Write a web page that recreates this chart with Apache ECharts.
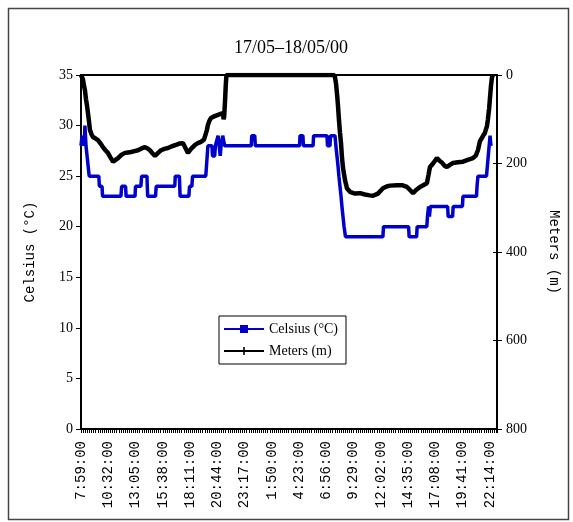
<!DOCTYPE html>
<html>
<head>
<meta charset="utf-8">
<script src="https://cdn.jsdelivr.net/npm/echarts@6/dist/echarts.min.js"></script>
<style>
html,body{margin:0;padding:0;background:#fff;}
#chart{width:573px;height:522px;}
</style>
</head>
<body>
<div id="chart"></div>
<script>
// Tick labels of the time axis (one every 153 minutes from 7:59:00)
const xLabels = ['7:59:00','10:32:00','13:05:00','15:38:00','18:11:00','20:44:00','23:17:00','1:50:00','4:23:00','6:56:00','9:29:00','12:02:00','14:35:00','17:08:00','19:41:00','22:14:00'];
const labelStep = 153;     // minutes between labels
const timeSpan = 2334;     // minutes shown on the axis

// Celsius (°C): minutes after 7:59:00 and temperature
const tempMinutes = [0,6,14,20,22,25,28,34,40,46,100,103,118,121,224,228,250,253,303,306,336,340,370,374,418,422,526,529,552,556,605,609,622,626,700,704,708,712,735,738,750,754,765,769,778,781,786,795,806,955,958,975,978,1226,1229,1245,1248,1302,1305,1380,1383,1397,1400,1425,1430,1436,1442,1447,1453,1459,1464,1470,1476,1484,1694,1697,1838,1841,1883,1886,1940,1944,1950,1955,1960,2057,2060,2085,2088,2140,2143,2219,2222,2227,2275,2280,2285,2290,2295,2300];
const tempValues  = [28,29,28,29,30,29,28,27,26,25,25,24,24,23,23,24,24,23,23,24,24,25,25,23,23,24,24,25,25,23,23,24,24,25,25,26,27,28,28,27,27,28,28,29,29,27,28,29,28,28,29,29,28,28,29,29,28,28,29,29,28,28,29,29,28,27,26,25,24,23,22,21,20,19,19,20,20,19,19,20,20,21,22,21,22,22,21,21,22,22,23,23,24,25,25,26,27,28,29,28];

// Meters (m): minutes after 7:59:00 and depth
const depthMinutes = [0,6,11,17,22,28,34,39,45,50,60,67,80,95,110,123,137,151,165,180,194,208,228,247,264,281,300,320,340,359,373,387,401,415,432,449,468,488,510,533,552,572,586,600,620,640,656,673,690,701,706,712,720,729,750,769,783,797,800,803,808,812,816,1420,1425,1431,1437,1442,1447,1453,1459,1464,1470,1481,1492,1509,1537,1565,1593,1620,1638,1666,1694,1715,1733,1773,1801,1829,1846,1863,1880,1902,1925,1941,1950,1958,1975,1997,2010,2025,2040,2053,2070,2087,2115,2143,2170,2199,2215,2227,2238,2255,2266,2278,2283,2290,2295,2300,2306,2311];
const depthValues  = [0,3,10,25,34,55,70,86,105,124,135,140,143,147,155,163,170,176,186,196,192,188,180,176,175,174,172,170,166,163,166,170,177,183,176,170,167,165,161,158,155,154,165,176,166,158,154,151,146,142,125,113,104,97,93,90,88,86,100,95,60,25,0,0,5,20,45,70,100,130,155,185,210,237,256,264,268,267,270,272,273,268,256,252,250,249,249,253,260,267,260,253,248,244,225,208,200,188,193,198,205,208,203,199,197,196,192,188,182,170,150,138,131,115,100,75,50,25,5,0];

const tempData = tempMinutes.map((t, i) => [t, tempValues[i]]);
const depthData = depthMinutes.map((t, i) => [t, depthValues[i]]);

const serif = 'Liberation Serif';
const chart = echarts.init(document.getElementById('chart'), null, {renderer: 'canvas'});
chart.setOption({
  backgroundColor: '#fff',
  animation: false,
  title: {
    text: '17/05\u201318/05/00',
    left: 286, top: 34, textAlign: 'center',
    textStyle: {fontFamily: serif, fontSize: 18, fontWeight: 'normal', color: '#000'}
  },
  graphic: [{
    type: 'rect', shape: {x: 8.5, y: 8.5, width: 560, height: 511},
    style: {fill: 'none', stroke: '#444', lineWidth: 1.5}, silent: true, z: -1
  }],
  legend: {
    left: 219, top: 316, orient: 'vertical',
    itemWidth: 40, itemHeight: 10, itemGap: 8,
    padding: [6, 8, 6, 4],
    borderColor: '#000', borderWidth: 1, backgroundColor: '#fff',
    textStyle: {fontFamily: serif, fontSize: 14, color: '#000'},
    data: ['Celsius (\u00b0C)', 'Meters (m)']
  },
  grid: {left: 81, right: 76, top: 75, bottom: 93, show: true, borderColor: '#000', borderWidth: 2, backgroundColor: 'transparent'},
  xAxis: [{
    type: 'value', min: 0, max: timeSpan, interval: labelStep,
    axisLine: {show: true, lineStyle: {color: '#000', width: 2}},
    axisTick: {show: true, length: 4, lineStyle: {color: '#000', width: 1}},
    minorTick: {show: true, splitNumber: 13, length: 4, lineStyle: {color: '#000', width: 1}},
    splitLine: {show: false}, minorSplitLine: {show: false},
    axisLabel: {
      rotate: 90, margin: 12, showMaxLabel: false,
      fontFamily: 'Liberation Mono', fontSize: 14, color: '#000',
      padding: [0, 0, 14, 0],
      formatter: v => { const k = Math.round(v / labelStep); return (Math.abs(v - k * labelStep) < 1 && xLabels[k]) ? xLabels[k] : ''; }
    }
  }],
  yAxis: [{
    type: 'value', min: 0, max: 35, interval: 5, position: 'left',
    name: 'Celsius (\u00b0C)', nameLocation: 'middle', nameGap: 44, nameRotate: 90,
    nameTextStyle: {fontFamily: 'Liberation Mono', fontSize: 14, color: '#000'},
    axisLine: {show: true, lineStyle: {color: '#000', width: 2}},
    axisTick: {show: true, length: 5, lineStyle: {color: '#000', width: 1}},
    splitLine: {show: false},
    axisLabel: {fontFamily: serif, fontSize: 14, color: '#000', margin: 8}
  }, {
    type: 'value', min: 0, max: 800, interval: 200, position: 'right', inverse: true,
    name: 'Meters (m)', nameLocation: 'middle', nameGap: 50, nameRotate: -90,
    nameTextStyle: {fontFamily: 'Liberation Mono', fontSize: 14, color: '#000'},
    axisLine: {show: true, lineStyle: {color: '#000', width: 2}},
    axisTick: {show: true, length: 5, lineStyle: {color: '#000', width: 1}},
    splitLine: {show: false},
    axisLabel: {fontFamily: serif, fontSize: 14, color: '#000', margin: 9}
  }, {
    type: 'value', min: 0, max: 800, interval: 200, position: 'right', inverse: true,
    axisLine: {show: false},
    axisTick: {show: true, inside: true, length: 4, lineStyle: {color: '#000', width: 1}},
    splitLine: {show: false}, axisLabel: {show: false}
  }],
  series: [{
    name: 'Celsius (\u00b0C)', type: 'line', xAxisIndex: 0, yAxisIndex: 0,
    data: tempData, showSymbol: false,
    symbol: 'path://M0,4h10v2h-10z', symbolSize: [8, 4],
    itemStyle: {color: '#0000cc'},
    lineStyle: {color: '#0000cc', width: 3.5}
  }, {
    name: 'Meters (m)', type: 'line', xAxisIndex: 0, yAxisIndex: 1,
    data: depthData, showSymbol: false,
    symbol: 'path://M4,0h2v4h4v2h-4v4h-2v-4h-4v-2h4z', symbolSize: 7,
    itemStyle: {color: '#000'},
    lineStyle: {color: '#000', width: 4.5}
  }]
});
</script>
</body>
</html>
